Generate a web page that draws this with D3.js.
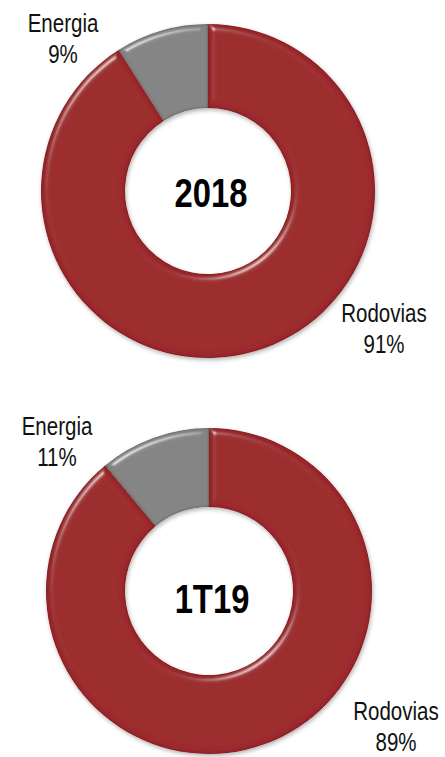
<!DOCTYPE html>
<html>
<head>
<meta charset="utf-8">
<script src="https://d3js.org/d3.v7.min.js"></script>
<style>
    body { margin: 0; background: #fff; }
    svg { display: block; }
    text { font-family: "Liberation Sans", Arial, sans-serif; fill: #111; }
</style>
</head>
<body>
<div id="chart"></div>
<script>
// data
const categories = ["Energia", "Rodovias"];
const periods = ["2018", "1T19"];
const values2018 = [9, 91];
const values1T19 = [11, 89];
const pctLabels2018 = ["9%", "91%"];
const pctLabels1T19 = ["11%", "89%"];

const colors = { Energia: "#858585", Rodovias: "#9c2b2d" };

const width = 445;
const height = 757;
const narrow = 0.82; // no Arial Narrow here, so squeeze the text

// layout for each donut (centre, radii, label spots)
const charts = [
    {
        period: periods[0], values: values2018, pct: pctLabels2018,
        cx: 208, cy: 191, outer: 167, inner: 83,
        labels: [{ x: 63, y: 32 }, { x: 384, y: 322 }],
        title: { x: 211, y: 207 }
    },
    {
        period: periods[1], values: values1T19, pct: pctLabels1T19,
        cx: 209, cy: 591, outer: 163, inner: 84,
        labels: [{ x: 57, y: 435 }, { x: 396, y: 720 }],
        title: { x: 212, y: 613 }
    }
];

const svg = d3.select("#chart")
    .append("svg")
    .attr("width", width)
    .attr("height", height);

// bevel look of the slices
const defs = svg.append("defs");
const bevel = defs.append("filter")
    .attr("id", "bevel")
    .attr("x", "-10%").attr("y", "-10%")
    .attr("width", "120%").attr("height", "120%");
bevel.append("feGaussianBlur")
    .attr("in", "SourceAlpha")
    .attr("stdDeviation", 3)
    .attr("result", "blur");
let spec = bevel.append("feSpecularLighting")
    .attr("in", "blur")
    .attr("surfaceScale", 5)
    .attr("specularConstant", 0.7)
    .attr("specularExponent", 40)
    .attr("lighting-color", "#ffffff")
    .attr("result", "spec");
spec.append("feDistantLight")
    .attr("azimuth", 235)
    .attr("elevation", 35);
bevel.append("feComposite")
    .attr("in", "spec").attr("in2", "SourceAlpha")
    .attr("operator", "in").attr("result", "specIn");
// dark rim
bevel.append("feGaussianBlur")
    .attr("in", "SourceAlpha")
    .attr("stdDeviation", 1.5)
    .attr("result", "blur2");
bevel.append("feComposite")
    .attr("in", "SourceAlpha").attr("in2", "blur2")
    .attr("operator", "arithmetic")
    .attr("k1", 0).attr("k2", 1.3).attr("k3", -1.3).attr("k4", 0)
    .attr("result", "rim");
bevel.append("feFlood")
    .attr("flood-color", "#000")
    .attr("flood-opacity", 0.6)
    .attr("result", "black");
bevel.append("feComposite")
    .attr("in", "black").attr("in2", "rim")
    .attr("operator", "in").attr("result", "rimDark");
bevel.append("feComposite")
    .attr("in", "SourceGraphic").attr("in2", "specIn")
    .attr("operator", "arithmetic")
    .attr("k1", 0).attr("k2", 1).attr("k3", 0.7).attr("k4", 0)
    .attr("result", "lit");
let merge = bevel.append("feMerge");
merge.append("feMergeNode").attr("in", "lit");
merge.append("feMergeNode").attr("in", "rimDark");

// soft shadow under the ring
const shadow = defs.append("filter")
    .attr("id", "shadow")
    .attr("x", "-10%").attr("y", "-10%")
    .attr("width", "120%").attr("height", "120%");
shadow.append("feDropShadow")
    .attr("dx", 1).attr("dy", 2)
    .attr("stdDeviation", 2)
    .attr("flood-color", "#000")
    .attr("flood-opacity", 0.3);

charts.forEach((c) => {
    let data = categories.map((name, i) => ({ name: name, value: c.values[i], pct: c.pct[i] }));

    // Energia sits just left of 12 o'clock, Rodovias runs clockwise from 12
    let total = d3.sum(c.values);
    let start = -2 * Math.PI * c.values[0] / total;
    let pie = d3.pie()
        .value(d => d.value)
        .sort(null)
        .startAngle(start)
        .endAngle(start + 2 * Math.PI);

    let arc = d3.arc()
        .innerRadius(c.inner)
        .outerRadius(c.outer);

    let g = svg.append("g")
        .attr("transform", `translate(${c.cx}, ${c.cy})`);

    let ring = g.append("g").attr("filter", "url(#shadow)");

    ring.selectAll("path")
        .data(pie(data))
        .join("path")
        .attr("d", arc)
        .attr("fill", d => colors[d.data.name])
        .attr("filter", "url(#bevel)");

    svg.append("text")
        .attr("transform", `translate(${c.title.x}, ${c.title.y}) scale(${narrow}, 1)`)
        .attr("text-anchor", "middle")
        .attr("font-size", "40px")
        .attr("font-weight", "bold")
        .style("fill", "#000")
        .text(c.period);

    data.forEach((d, i) => {
        let lab = svg.append("text")
            .attr("transform", `translate(${c.labels[i].x}, ${c.labels[i].y}) scale(${narrow}, 1)`)
            .attr("text-anchor", "middle")
            .attr("font-size", "25px");
        lab.append("tspan")
            .attr("x", 0)
            .attr("y", 0)
            .text(d.name);
        lab.append("tspan")
            .attr("x", 0)
            .attr("dy", 31)
            .text(d.pct);
    });
});
</script>
</body>
</html>
